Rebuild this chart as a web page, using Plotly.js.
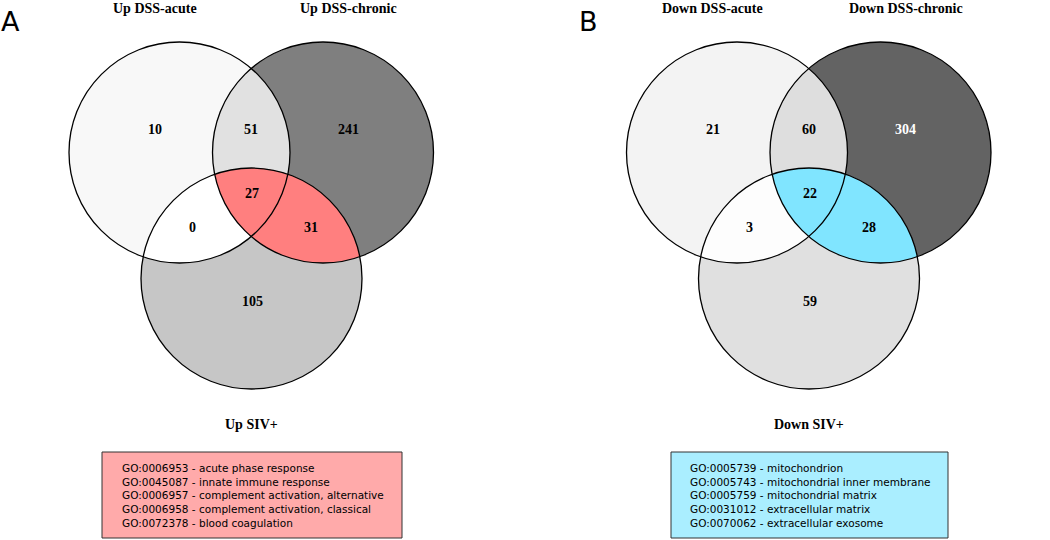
<!DOCTYPE html>
<html>
<head>
<meta charset="utf-8">
<script src="https://cdn.plot.ly/plotly-3.0.1.min.js"></script>
<style>html,body{margin:0;padding:0;background:#fff;}#chart{width:1050px;height:540px;}</style>
</head>
<body>
<div id="chart"></div>
<script>
// ---------------- data ----------------
// region order: A only, B only, C only, A∩B, A∩C, B∩C, A∩B∩C
const regionNames = ['A only', 'B only', 'C only', 'A∩B', 'A∩C', 'B∩C', 'A∩B∩C'];
const setsUp = ['Up DSS-acute', 'Up DSS-chronic', 'Up SIV+'];
const countsUp = [10, 241, 105, 51, 0, 31, 27];
const setsDown = ['Down DSS-acute', 'Down DSS-chronic', 'Down SIV+'];
const countsDown = [21, 304, 59, 60, 3, 28, 22];
const goUp = [
  'GO:0006953 - acute phase response',
  'GO:0045087 - innate immune response',
  'GO:0006957 - complement activation, alternative',
  'GO:0006958 - complement activation, classical',
  'GO:0072378 - blood coagulation'
];
const goDown = [
  'GO:0005739 - mitochondrion',
  'GO:0005743 - mitochondrial inner membrane',
  'GO:0005759 - mitochondrial matrix',
  'GO:0031012 - extracellular matrix',
  'GO:0070062 - extracellular exosome'
];
const panelLetters = ['A', 'B'];

// ---------------- styles / layout ----------------
const colorsUp = ['#f8f8f8', '#7f7f7f', '#c6c6c6', '#e1e1e1', '#ffffff', '#ff7f7f', '#ff7f7f'];
const colorsDown = ['#f3f3f3', '#636363', '#e0e0e0', '#dedede', '#fdfdfd', '#80e5ff', '#80e5ff'];
const boxColors = ['#ffaaaa', '#aaeeff'];
const R = 110.5;
const baseCenters = [[179.5, 152.5], [323, 152.5], [251.5, 278.5]];
const baseLabelPos = [[155, 129], [348, 129], [252, 301], [251, 129], [192, 227], [311, 227], [252, 193]];
const baseSetLabelPos = [[155, 8], [348, 8], [251, 424]];
const panelOffsets = [0, 557.5];
const boxes = [{x0: 102, x1: 402, y0: 452, y1: 538, tx: 121}, {x0: 671, x1: 948, y0: 452, y1: 538, tx: 689}];
const letterPos = [[10, 21], [588, 21]];

function circlePoly(cx, cy, r, n) {
  const pts = [];
  for (let i = 0; i < n; i++) {
    const t = 2 * Math.PI * i / n;
    pts.push([cx + r * Math.cos(t), cy + r * Math.sin(t)]);
  }
  return pts;
}
// Sutherland-Hodgman clipping of subject by convex clip polygon
function clipPoly(subject, clip) {
  let area = 0;
  for (let i = 0; i < clip.length; i++) {
    const a = clip[i], b = clip[(i + 1) % clip.length];
    area += a[0] * b[1] - b[0] * a[1];
  }
  const sgn = area > 0 ? 1 : -1;
  let output = subject.slice();
  for (let i = 0; i < clip.length; i++) {
    const A = clip[i], B = clip[(i + 1) % clip.length];
    const input = output; output = [];
    if (!input.length) break;
    const inside = p => sgn * ((B[0] - A[0]) * (p[1] - A[1]) - (B[1] - A[1]) * (p[0] - A[0])) >= 0;
    const inter = (P, Q) => {
      const a1 = B[1] - A[1], b1 = A[0] - B[0], c1 = a1 * A[0] + b1 * A[1];
      const a2 = Q[1] - P[1], b2 = P[0] - Q[0], c2 = a2 * P[0] + b2 * P[1];
      const det = a1 * b2 - a2 * b1;
      return [(b2 * c1 - b1 * c2) / det, (a1 * c2 - a2 * c1) / det];
    };
    for (let j = 0; j < input.length; j++) {
      const P = input[j], Q = input[(j + 1) % input.length];
      const pin = inside(P), qin = inside(Q);
      if (qin) {
        if (!pin) output.push(inter(P, Q));
        output.push(Q);
      } else if (pin) {
        output.push(inter(P, Q));
      }
    }
  }
  return output;
}
function polyTrace(poly, color) {
  const xs = poly.map(p => p[0]), ys = poly.map(p => p[1]);
  xs.push(xs[0]); ys.push(ys[0]);
  return {x: xs, y: ys, type: 'scatter', mode: 'lines', fill: 'toself', fillcolor: color,
          line: {width: 0, color: color}, hoverinfo: 'skip', showlegend: false};
}
function isDark(hex) {
  const r = parseInt(hex.substr(1, 2), 16), g = parseInt(hex.substr(3, 2), 16), b = parseInt(hex.substr(5, 2), 16);
  return (0.299 * r + 0.587 * g + 0.114 * b) / 255 < 0.45;
}

const traces = [], shapes = [], annotations = [];
const panels = [
  {sets: setsUp, counts: countsUp, colors: colorsUp, go: goUp},
  {sets: setsDown, counts: countsDown, colors: colorsDown, go: goDown}
];
panels.forEach((p, k) => {
  const off = panelOffsets[k];
  const c = baseCenters.map(q => [q[0] + off, q[1]]);
  const polys = c.map(q => circlePoly(q[0], q[1], R, 720));
  const l12 = clipPoly(polys[0], polys[1]);
  const l13 = clipPoly(polys[0], polys[2]);
  const l23 = clipPoly(polys[1], polys[2]);
  const tri = clipPoly(l12, polys[2]);
  const regionPolys = [polys[0], polys[1], polys[2], l12, l13, l23, tri];
  regionPolys.forEach((poly, i) => traces.push(polyTrace(poly, p.colors[i])));
  c.forEach(q => shapes.push({type: 'circle', xref: 'x', yref: 'y', x0: q[0] - R, x1: q[0] + R,
    y0: q[1] - R, y1: q[1] + R, line: {color: '#000', width: 1.3}, layer: 'above'}));
  p.counts.forEach((v, i) => annotations.push({x: baseLabelPos[i][0] + off, y: baseLabelPos[i][1],
    xref: 'x', yref: 'y', text: '<b>' + v + '</b>', showarrow: false,
    font: {family: 'Liberation Serif, Times New Roman, serif', size: 14, color: isDark(p.colors[i]) ? '#ffffff' : '#000000'}}));
  p.sets.forEach((s, i) => annotations.push({x: baseSetLabelPos[i][0] + off, y: baseSetLabelPos[i][1],
    xref: 'x', yref: 'y', text: '<b>' + s + '</b>', showarrow: false,
    font: {family: 'Liberation Serif, Times New Roman, serif', size: 14, color: '#000'}}));
  const b = boxes[k];
  shapes.push({type: 'rect', xref: 'x', yref: 'y', x0: b.x0, x1: b.x1, y0: b.y0, y1: b.y1,
    fillcolor: boxColors[k], line: {color: '#333', width: 1}, layer: 'below'});
  annotations.push({x: b.tx, y: 461, xref: 'x', yref: 'y', xanchor: 'left', yanchor: 'top', align: 'left',
    text: p.go.join('<br>'), showarrow: false, borderpad: 0,
    font: {family: 'DejaVu Sans, sans-serif', size: 10.5, color: '#000'}});
  annotations.push({x: letterPos[k][0], y: letterPos[k][1], xref: 'x', yref: 'y', text: panelLetters[k],
    showarrow: false, font: {family: 'DejaVu Sans, sans-serif', size: 27, color: '#000'}});
});

const layout = {
  width: 1050, height: 540,
  margin: {l: 0, r: 0, t: 0, b: 0},
  paper_bgcolor: '#ffffff', plot_bgcolor: '#ffffff',
  xaxis: {range: [0, 1050], visible: false, fixedrange: true},
  yaxis: {range: [540, 0], visible: false, fixedrange: true},
  shapes: shapes, annotations: annotations, showlegend: false
};
Plotly.newPlot('chart', traces, layout, {staticPlot: true});
</script>
</body>
</html>
